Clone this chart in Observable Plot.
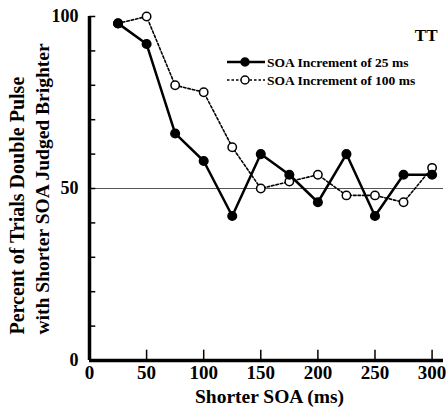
<!DOCTYPE html>
<html><head><meta charset="utf-8">
<script src="https://cdn.jsdelivr.net/npm/d3@7"></script>
<script src="https://cdn.jsdelivr.net/npm/@observablehq/plot@0.6"></script>
<style>body{margin:0;background:#fff}</style>
</head><body><div id="chart"></div>
<script>
const soa = [25, 50, 75, 100, 125, 150, 175, 200, 225, 250, 275, 300];
const inc25 = [98, 92, 66, 58, 42, 60, 54, 46, 60, 42, 54, 54];
const inc100 = [98, 100, 80, 78, 62, 50, 52, 54, 48, 48, 46, 56];
const seriesNames = ["SOA Increment of 25 ms", "SOA Increment of 100 ms"];
const xTicks = [0, 50, 100, 150, 200, 250, 300];
const xInnerTicks = [50, 100, 150, 200, 250, 300];
const yTicks = [0, 10, 20, 30, 40, 50, 60, 70, 80, 90, 100];
const yLabels = [0, 50, 100];
const refLevel = 50;
const yTitle1 = "Percent of Trials Double Pulse";
const yTitle2 = "with Shorter SOA Judged Brighter";
const xTitle = "Shorter SOA (ms)";
const panelLabel = "TT";

const d25 = soa.map((x, i) => ({x, y: inc25[i]}));
const d100 = soa.map((x, i) => ({x, y: inc100[i]}));

const font = "Liberation Serif, Times New Roman, serif";
const chart = Plot.plot({
  width: 446, height: 415,
  marginLeft: 89, marginRight: 3, marginTop: 16, marginBottom: 55,
  style: {fontFamily: font, fontSize: "18px", fontWeight: "bold", color: "black", background: "white"},
  x: {domain: [0, 310]},
  y: {domain: [0, 100]},
  marks: [
    Plot.ruleY([refLevel], {x1: 0, x2: 310, stroke: "#555", strokeWidth: 1}),
    Plot.line(d100, {x: "x", y: "y", stroke: "black", strokeWidth: 1.6, strokeDasharray: "2.5,2"}),
    Plot.line(d25, {x: "x", y: "y", stroke: "black", strokeWidth: 2.5}),
    Plot.dot(d100, {x: "x", y: "y", r: 4.2, fill: "white", stroke: "black", strokeWidth: 1.5}),
    Plot.dot(d25, {x: "x", y: "y", r: 4.3, fill: "black", stroke: "black"}),
    Plot.ruleX(xInnerTicks, {y1: 0, y2: 3, stroke: "black", strokeWidth: 1.5}),
    Plot.ruleY(yTicks, {x1: 0, x2: 5.5, stroke: "black", strokeWidth: 1.5}),
    Plot.ruleX([0], {y1: 0, y2: 100, stroke: "black", strokeWidth: 3.5}),
    Plot.ruleY([0], {x1: 0, x2: 310, stroke: "black", strokeWidth: 3.5}),
    Plot.axisX({ticks: xTicks, tickSize: 0, tickPadding: 5, tickFormat: d => String(d), label: null, fontSize: 19, fontWeight: "bold"}),
    Plot.axisY({ticks: yLabels, tickSize: 0, tickPadding: 11, tickFormat: d => String(d), label: null, fontSize: 18, fontWeight: "bold"}),
    Plot.text([xTitle], {frameAnchor: "bottom", dx: 3, dy: 42, fontSize: 19.5, fontWeight: "bold", fill: "black"}),
    Plot.text([yTitle1], {frameAnchor: "left", rotate: -90, textAnchor: "start", dx: -72, dy: 146, fontSize: 20, fontWeight: "bold", fill: "black"}),
    Plot.text([yTitle2], {frameAnchor: "left", rotate: -90, textAnchor: "start", dx: -47, dy: 146, fontSize: 19.5, fontWeight: "bold", fill: "black"}),
    Plot.text([panelLabel], {frameAnchor: "top-right", dx: -6, dy: 12, fontSize: 17, fontWeight: "bold", fill: "black"})
  ]
});
document.getElementById("chart").appendChild(chart);

// legend
const svg = d3.select(chart);
const lg = svg.append("g").attr("font-family", font).attr("font-weight", "bold").style("font-size", "13.5px").attr("text-anchor", "start");
const rows = [
  {y: 62, name: seriesNames[0], dash: null, fill: "black", sw: 2.5},
  {y: 80, name: seriesNames[1], dash: "2.5,2", fill: "white", sw: 1.6}
];
rows.forEach(r => {
  lg.append("line").attr("x1", 227).attr("x2", 265).attr("y1", r.y).attr("y2", r.y)
    .attr("stroke", "black").attr("stroke-width", r.sw).attr("stroke-dasharray", r.dash);
  lg.append("circle").attr("cx", 245).attr("cy", r.y).attr("r", 4)
    .attr("fill", r.fill).attr("stroke", "black").attr("stroke-width", 1.5);
  lg.append("text").attr("x", 267).attr("y", r.y).attr("dy", "0.35em").attr("fill", "black").text(r.name);
});
</script></body></html>
